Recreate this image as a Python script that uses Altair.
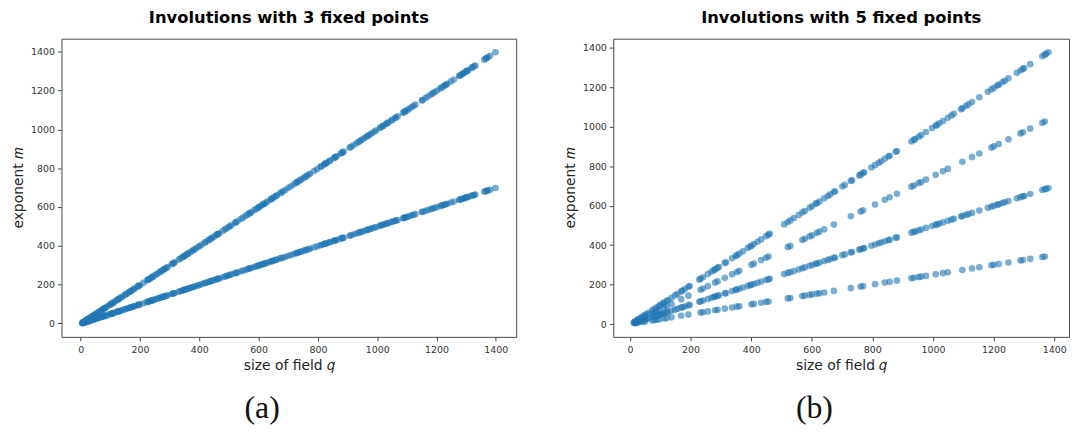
import altair as alt
import pandas as pd

# ---------------- data ----------------
# (a) field sizes q and the two exponent branches
QA = [5, 7, 9, 11, 13, 17, 19, 23, 25, 27, 29, 31, 37, 41, 43, 47, 49, 53, 59, 61, 67, 71, 73, 79, 81, 83, 89, 97,
      101, 103, 107, 109, 113, 121, 125, 127, 131, 137, 139, 149, 151, 157, 163, 167, 169, 173, 179, 181, 191, 193, 197, 199,
      211, 223, 227, 229, 233, 239, 241, 243, 251, 257, 263, 269, 271, 277, 281, 283, 289, 293,
      307, 311, 313, 317, 331, 337, 343, 347, 349, 353, 359, 361, 367, 373, 379, 383, 389, 397,
      401, 409, 419, 421, 431, 433, 439, 443, 449, 457, 461, 463, 467, 479, 487, 491, 499,
      503, 509, 521, 523, 529, 541, 547, 557, 563, 569, 571, 577, 587, 593, 599,
      601, 607, 613, 617, 619, 625, 631, 641, 643, 647, 653, 659, 661, 673, 677, 683, 691,
      701, 709, 719, 727, 729, 733, 739, 743, 751, 757, 761, 769, 773, 787, 797,
      809, 811, 821, 823, 827, 829, 839, 841, 853, 857, 859, 863, 877, 881, 883, 887,
      907, 911, 919, 929, 937, 941, 947, 953, 961, 967, 971, 977, 983, 991, 997,
      1009, 1013, 1019, 1021, 1031, 1033, 1039, 1049, 1051, 1061, 1063, 1069, 1087, 1091, 1093, 1097,
      1103, 1109, 1117, 1123, 1129, 1151, 1153, 1163, 1171, 1181, 1187, 1193,
      1201, 1213, 1217, 1223, 1229, 1231, 1237, 1249, 1259, 1277, 1279, 1283, 1289, 1291, 1297,
      1301, 1303, 1307, 1319, 1321, 1327, 1331, 1361, 1367, 1369, 1373, 1381, 1399]

MA_UPPER = [3, 5, 7, 9, 11, 15, 17, 21, 23, 25, 27, 29, 35, 39, 41, 45, 47, 51, 57, 59, 65, 69, 71, 77, 79, 81, 87, 95,
            99, 101, 105, 107, 111, 119, 123, 125, 129, 135, 137, 147, 149, 155, 161, 165, 167, 171, 177, 179, 189, 191, 195, 197,
            209, 221, 225, 227, 231, 237, 239, 241, 249, 255, 261, 267, 269, 275, 279, 281, 287, 291,
            305, 309, 311, 315, 329, 335, 341, 345, 347, 351, 357, 359, 365, 371, 377, 381, 387, 395,
            399, 407, 417, 419, 429, 431, 437, 441, 447, 455, 459, 461, 465, 477, 485, 489, 497,
            501, 507, 519, 521, 527, 539, 545, 555, 561, 567, 569, 575, 585, 591, 597,
            599, 605, 611, 615, 617, 623, 629, 639, 641, 645, 651, 657, 659, 671, 675, 681, 689,
            699, 707, 717, 725, 727, 731, 737, 741, 749, 755, 759, 767, 771, 785, 795,
            807, 809, 819, 821, 825, 827, 837, 839, 851, 855, 857, 861, 875, 879, 881, 885,
            905, 909, 917, 927, 935, 939, 945, 951, 959, 965, 969, 975, 981, 989, 995,
            1007, 1011, 1017, 1019, 1029, 1031, 1037, 1047, 1049, 1059, 1061, 1067, 1085, 1089, 1091, 1095,
            1101, 1107, 1115, 1121, 1127, 1149, 1151, 1161, 1169, 1179, 1185, 1191,
            1199, 1211, 1215, 1221, 1227, 1229, 1235, 1247, 1257, 1275, 1277, 1281, 1287, 1289, 1295,
            1299, 1301, 1305, 1317, 1319, 1325, 1329, 1359, 1365, 1367, 1371, 1379, 1397]

MA_LOWER = [1, 2, 3, 4, 5, 7, 8, 10, 11, 12, 13, 14, 17, 19, 20, 22, 23, 25, 28, 29, 32, 34, 35, 38, 39, 40, 43, 47,
            49, 50, 52, 53, 55, 59, 61, 62, 64, 67, 68, 73, 74, 77, 80, 82, 83, 85, 88, 89, 94, 95, 97, 98,
            104, 110, 112, 113, 115, 118, 119, 120, 124, 127, 130, 133, 134, 137, 139, 140, 143, 145,
            152, 154, 155, 157, 164, 167, 170, 172, 173, 175, 178, 179, 182, 185, 188, 190, 193, 197,
            199, 203, 208, 209, 214, 215, 218, 220, 223, 227, 229, 230, 232, 238, 242, 244, 248,
            250, 253, 259, 260, 263, 269, 272, 277, 280, 283, 284, 287, 292, 295, 298,
            299, 302, 305, 307, 308, 311, 314, 319, 320, 322, 325, 328, 329, 335, 337, 340, 344,
            349, 353, 358, 362, 363, 365, 368, 370, 374, 377, 379, 383, 385, 392, 397,
            403, 404, 409, 410, 412, 413, 418, 419, 425, 427, 428, 430, 437, 439, 440, 442,
            452, 454, 458, 463, 467, 469, 472, 475, 479, 482, 484, 487, 490, 494, 497,
            503, 505, 508, 509, 514, 515, 518, 523, 524, 529, 530, 533, 542, 544, 545, 547,
            550, 553, 557, 560, 563, 574, 575, 580, 584, 589, 592, 595,
            599, 605, 607, 610, 613, 614, 617, 623, 628, 637, 638, 640, 643, 644, 647,
            649, 650, 652, 658, 659, 662, 664, 679, 682, 683, 685, 689, 698]

# (b) field sizes carrying the slope-1 and slope-1/2 branches
QB1 = [13, 17, 25, 29, 37, 41, 49, 53, 61, 73, 81, 89, 97,
       101, 109, 113, 121, 125, 137, 149, 157, 169, 173, 181, 193, 197,
       229, 233, 241, 257, 269, 277, 281, 289, 293,
       313, 317, 337, 349, 353, 361, 373, 389, 397,
       401, 409, 421, 433, 449, 457, 461,
       509, 521, 529, 541, 557, 569, 577, 593,
       601, 613, 617, 625, 641, 653, 661, 673, 677,
       701, 709, 729, 733, 757, 761, 769, 773, 797,
       809, 821, 829, 841, 853, 857, 877, 881,
       929, 937, 941, 953, 961, 977, 997,
       1009, 1013, 1021, 1033, 1049, 1061, 1069, 1093, 1097,
       1109, 1117, 1129, 1153, 1181, 1193,
       1201, 1213, 1217, 1229, 1237, 1249, 1277, 1289, 1297,
       1301, 1321, 1361, 1369, 1373, 1381]

MB_FULL = [9, 13, 21, 25, 33, 37, 45, 49, 57, 69, 77, 85, 93,
           97, 105, 109, 117, 121, 133, 145, 153, 165, 169, 177, 189, 193,
           225, 229, 237, 253, 265, 273, 277, 285, 289,
           309, 313, 333, 345, 349, 357, 369, 385, 393,
           397, 405, 417, 429, 445, 453, 457,
           505, 517, 525, 537, 553, 565, 573, 589,
           597, 609, 613, 621, 637, 649, 657, 669, 673,
           697, 705, 725, 729, 753, 757, 765, 769, 793,
           805, 817, 825, 837, 849, 853, 873, 877,
           925, 933, 937, 949, 957, 973, 993,
           1005, 1009, 1017, 1029, 1045, 1057, 1065, 1089, 1093,
           1105, 1113, 1125, 1149, 1177, 1189,
           1197, 1209, 1213, 1225, 1233, 1245, 1273, 1285, 1293,
           1297, 1317, 1357, 1365, 1369, 1377]

MB_HALF = [5, 7, 11, 13, 17, 19, 23, 25, 29, 35, 39, 43, 47,
           49, 53, 55, 59, 61, 67, 73, 77, 83, 85, 89, 95, 97,
           113, 115, 119, 127, 133, 137, 139, 143, 145,
           155, 157, 167, 173, 175, 179, 185, 193, 197,
           199, 203, 209, 215, 223, 227, 229,
           253, 259, 263, 269, 277, 283, 287, 295,
           299, 305, 307, 311, 319, 325, 329, 335, 337,
           349, 353, 363, 365, 377, 379, 383, 385, 397,
           403, 409, 413, 419, 425, 427, 437, 439,
           463, 467, 469, 475, 479, 487, 497,
           503, 505, 509, 515, 523, 529, 533, 545, 547,
           553, 557, 563, 575, 589, 595,
           599, 605, 607, 613, 617, 623, 637, 643, 647,
           649, 659, 679, 683, 685, 689]

# (b) field sizes carrying the slope-3/4 and slope-1/4 branches
QB2 = [17, 25, 41, 49, 73, 81, 89, 97,
       113, 121, 137, 169, 193,
       233, 241, 257, 281, 289,
       313, 337, 353, 361,
       401, 409, 433, 449, 457,
       521, 529, 569, 577, 593,
       601, 617, 625, 641, 673,
       729, 761, 769,
       809, 841, 857, 881,
       929, 937, 953, 961, 977,
       1009, 1033, 1049, 1097,
       1129, 1153, 1193,
       1201, 1217, 1249, 1289, 1297,
       1321, 1361, 1369]

MB_3Q = [12, 18, 30, 36, 54, 60, 66, 72,
         84, 90, 102, 126, 144,
         174, 180, 192, 210, 216,
         234, 252, 264, 270,
         300, 306, 324, 336, 342,
         390, 396, 426, 432, 444,
         450, 462, 468, 480, 504,
         546, 570, 576,
         606, 630, 642, 660,
         696, 702, 714, 720, 732,
         756, 774, 786, 822,
         846, 864, 894,
         900, 912, 936, 966, 972,
         990, 1020, 1026]

MB_1Q = [4, 6, 10, 12, 18, 20, 22, 24,
         28, 30, 34, 42, 48,
         58, 60, 64, 70, 72,
         78, 84, 88, 90,
         100, 102, 108, 112, 114,
         130, 132, 142, 144, 148,
         150, 154, 156, 160, 168,
         182, 190, 192,
         202, 210, 214, 220,
         232, 234, 238, 240, 244,
         252, 258, 262, 274,
         282, 288, 298,
         300, 304, 312, 322, 324,
         330, 340, 342]

TICKS = [0, 200, 400, 600, 800, 1000, 1200, 1400]
TITLES = ["Involutions with 3 fixed points", "Involutions with 5 fixed points"]
LABELS = ["(a)", "(b)"]
X_TITLE = "size of field \U0001D45E"
Y_TITLE = "exponent \U0001D45A"

df_a = pd.DataFrame({"q": QA + QA, "m": MA_UPPER + MA_LOWER})
df_b = pd.DataFrame({"q": QB1 + QB1 + QB2 + QB2,
                     "m": MB_FULL + MB_HALF + MB_3Q + MB_1Q})

BLUE = "#1f77b4"
FRAME = "#444444"


def panel(df, title, label, xdom, ydom, w, h):
    pts = alt.Chart(df).mark_circle(size=45, opacity=0.6, color=BLUE).encode(
        x=alt.X("q:Q", scale=alt.Scale(domain=xdom, nice=False, zero=False),
                axis=alt.Axis(title=X_TITLE, values=TICKS, format="d", labelPadding=3.5)),
        y=alt.Y("m:Q", scale=alt.Scale(domain=ydom, nice=False, zero=False),
                axis=alt.Axis(title=Y_TITLE, values=TICKS, format="d", labelPadding=3)),
    )
    lab = alt.Chart(pd.DataFrame({"t": [label]})).mark_text(
        font="Liberation Serif", fontSize=32, align="center", baseline="middle", color="#111"
    ).encode(text="t:N", x=alt.value(w / 2 - 27), y=alt.value(h + 72))
    return alt.layer(pts, lab).properties(
        width=w, height=h,
        title=alt.Title(title, fontSize=16.5, font="DejaVu Sans", fontWeight="bold",
                        color="#000", anchor="middle", offset=12),
    )


left = panel(df_a, TITLES[0], LABELS[0], [-65, 1469], [-69, 1467], 459, 301)
right = panel(df_b, TITLES[1], LABELS[1], [-55, 1449], [-65, 1446], 460, 301)

chart = alt.hconcat(left, right, spacing=46).properties(
    padding={"left": 3, "top": 0, "right": 0, "bottom": 0}
).configure_view(
    stroke=FRAME, strokeWidth=1
).configure_axis(
    grid=False, domain=False, ticks=True, tickColor=FRAME, tickSize=4, tickWidth=1,
    labelFont="DejaVu Sans", labelFontSize=9.5, labelColor="#333",
    labelFlush=False, labelOverlap=False,
    titleFont="DejaVu Sans", titleFontSize=14, titleFontWeight="normal", titleColor="#222",
    titlePadding=5,
)

chart.save("out.html", embed_options={"renderer": "svg", "actions": False})
